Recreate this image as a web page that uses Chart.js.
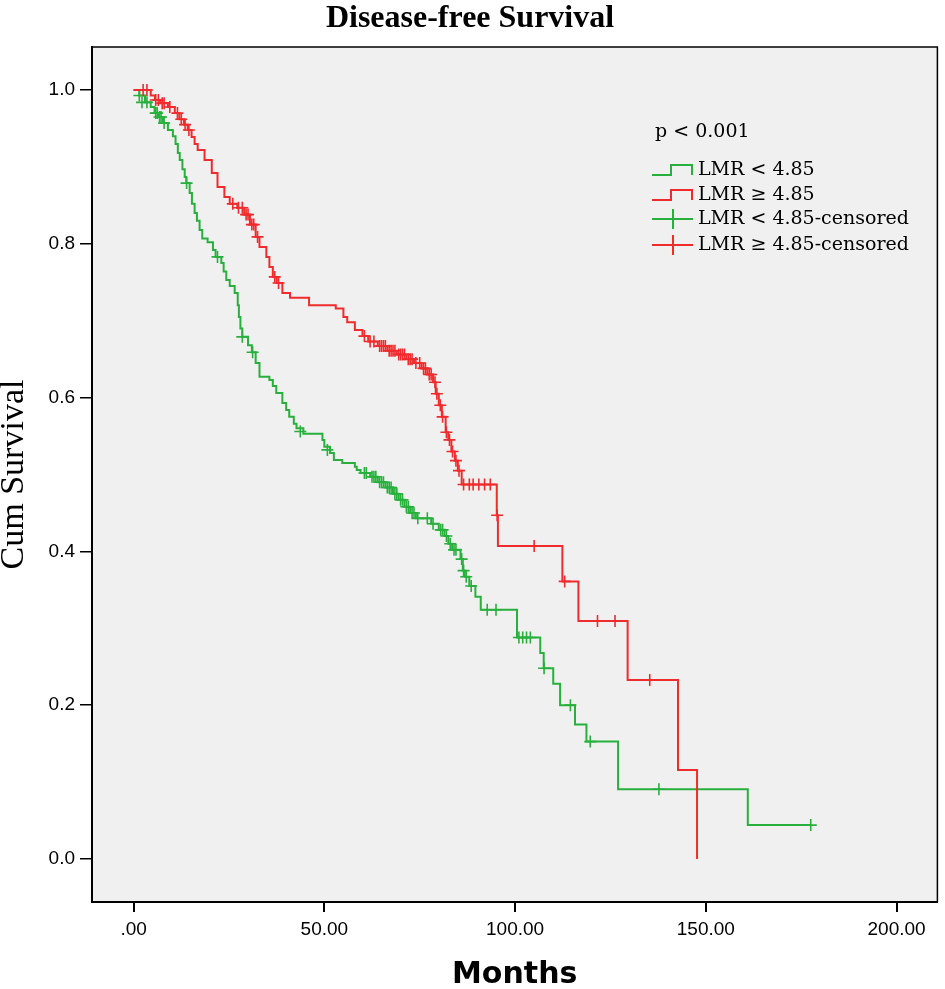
<!DOCTYPE html>
<html>
<head>
<meta charset="utf-8">
<script src="https://cdn.jsdelivr.net/npm/chart.js@4.4.1/dist/chart.umd.min.js"></script>
<style>
html,body{margin:0;padding:0;background:#ffffff;}
#wrap{width:945px;height:989px;position:relative;}
</style>
</head>
<body>
<div id="wrap"><canvas id="c"></canvas></div>
<script>
// ---- Data ----
const titleText = 'Disease-free Survival';
const xTicks = [0, 50, 100, 150, 200];
const yTicks = [0, 0.2, 0.4, 0.6, 0.8, 1.0];
const seriesNames = ['LMR < 4.85', 'LMR \u2265 4.85', 'LMR < 4.85-censored', 'LMR \u2265 4.85-censored'];
const pValueText = 'p < 0.001';

// LMR >= 4.85 : event times (months) and survival after the step
const redTimes = [0,4.5,5.6,7,9,10.8,12,13.2,14.2,15.2,16,16.8,18.6,20.5,22,23.8,25.2,27.2,29,30.5,32,33,34.8,35.6,36.5,37.5,39,41,46,53,55,56,58,60,61.5,64,66.5,69,71.5,73.5,75.5,77,78.5,79.2,80,80.8,81.8,82.5,83.3,84.2,85,86,95.2,95.5,112.4,116.6,129.5,142.7,147.7];
const redSurv  = [1.0,0.993,0.987,0.983,0.978,0.97,0.962,0.955,0.948,0.939,0.93,0.922,0.909,0.892,0.874,0.861,0.852,0.847,0.838,0.825,0.809,0.796,0.783,0.77,0.757,0.749,0.736,0.73,0.72,0.716,0.705,0.698,0.688,0.68,0.673,0.667,0.661,0.656,0.65,0.645,0.638,0.63,0.62,0.605,0.59,0.575,0.555,0.545,0.53,0.518,0.505,0.487,0.447,0.407,0.361,0.3095,0.2328,0.1157,0.0];
// LMR >= 4.85 censored
const redCensT = [2.5,3.5,5.8,6.5,7.5,8,9.5,11.5,12.5,13.5,14.5,26,27.5,28.5,29.5,30,31,31.5,32.5,37,38,60.5,62,63,64.5,65,65.5,66,67,67.5,68,68.5,69.5,70,70.5,71,72,72.5,73,74,75,76,76.5,77.5,78,79,79.5,80.4,81,82,82.8,83.6,84.5,85.3,86.5,88,89,90.5,92,93.5,95.3,105,113,121.6,126.2,135.3];
const redCensS = [1.0,1.0,0.987,0.987,0.983,0.983,0.978,0.97,0.962,0.955,0.948,0.852,0.847,0.847,0.838,0.838,0.825,0.825,0.809,0.757,0.749,0.68,0.673,0.673,0.667,0.667,0.667,0.667,0.661,0.661,0.661,0.661,0.656,0.656,0.656,0.656,0.65,0.65,0.65,0.645,0.645,0.638,0.638,0.63,0.63,0.62,0.605,0.59,0.575,0.555,0.545,0.53,0.518,0.505,0.487,0.487,0.487,0.487,0.487,0.487,0.447,0.407,0.361,0.3095,0.3095,0.2328];

// LMR < 4.85 : event times and survival after the step
const greenTimes = [0,1.5,3,4.5,5.5,6.4,7.7,9,10.3,11,11.6,12.1,12.8,13.4,13.8,14.7,15.3,16,16.6,17.3,18,19.4,20.8,21.5,23,23.6,24.3,25.2,26.5,27.3,27.6,28,28.5,30,31,32,33,35.6,36.5,37.4,39,40,40.8,42,42.7,44.5,49.5,50,51.5,52.5,54.7,58,58.5,59.5,62,64,66,68,69.5,71,72.5,74,78,80,81.5,82.5,83.5,85.7,86.3,86.8,88,89.6,91,100.5,106.6,107.5,110,111.8,115.7,118.7,127,161,177.5];
const greenSurv  = [1.0,0.993,0.984,0.978,0.97,0.965,0.957,0.948,0.94,0.93,0.918,0.909,0.897,0.887,0.879,0.866,0.852,0.84,0.83,0.818,0.807,0.802,0.792,0.783,0.775,0.764,0.753,0.745,0.736,0.72,0.705,0.69,0.679,0.668,0.659,0.645,0.627,0.623,0.615,0.606,0.593,0.584,0.575,0.566,0.56,0.553,0.545,0.536,0.528,0.519,0.515,0.51,0.506,0.502,0.497,0.49,0.483,0.475,0.467,0.458,0.45,0.443,0.436,0.428,0.42,0.41,0.402,0.39,0.375,0.367,0.355,0.341,0.324,0.288,0.268,0.248,0.228,0.2,0.175,0.1526,0.0906,0.044,0.044];
// LMR < 4.85 censored
const greenCensT = [1.5,2.2,3.5,5.8,6.2,6.8,7.2,8,13.9,22,28.5,31.2,43.7,50.8,60.5,61,62.5,63,63.5,64.5,65,65.5,66.5,67,67.5,68.5,69,70,70.5,71.5,72,73,73.5,74.5,77,78.5,80.5,81,82,83,84,84.5,86,86.5,87.2,88.5,92.7,95,101,102,103,104,107.6,114.5,119.7,137.7,177.5];
const greenCensS = [0.993,0.984,0.984,0.97,0.97,0.965,0.965,0.957,0.879,0.783,0.679,0.659,0.556,0.532,0.502,0.502,0.497,0.497,0.497,0.49,0.49,0.49,0.483,0.483,0.483,0.475,0.475,0.467,0.467,0.458,0.458,0.45,0.45,0.443,0.443,0.436,0.428,0.428,0.42,0.41,0.402,0.402,0.39,0.375,0.367,0.355,0.324,0.324,0.288,0.288,0.288,0.288,0.248,0.2,0.1526,0.0906,0.044];

// ---- styling ----
const RED = '#ef2b2b';
const GREEN = '#27b03c';
const toPts = (xs, ys) => xs.map((x, i) => ({x: x, y: ys[i]}));

const bgPlugin = {
  id: 'bgPlugin',
  beforeDraw(chart) {
    const {ctx, chartArea: a} = chart;
    ctx.save();
    ctx.fillStyle = '#ffffff';
    ctx.fillRect(0, 0, chart.width, chart.height);
    ctx.fillStyle = '#f0f0f0';
    ctx.fillRect(a.left, a.top, a.right - a.left, a.bottom - a.top);
    ctx.restore();
  },
  afterDraw(chart) {
    const {ctx, chartArea: a} = chart;
    ctx.save();
    ctx.strokeStyle = '#000';
    ctx.lineWidth = 1.5;
    ctx.beginPath();
    ctx.moveTo(a.left, a.top); ctx.lineTo(a.right, a.top); ctx.lineTo(a.right, a.bottom);
    ctx.stroke();
    // legend
    const lx = 652, tx = 698;
    ctx.fillStyle = '#000';
    ctx.textBaseline = 'middle';
    ctx.textAlign = 'left';
    ctx.font = '19px "DejaVu Serif", serif';
    ctx.fillText(pValueText, 655, 132);
    const rows = [170, 195, 219, 245];
    const cols = [GREEN, RED, GREEN, RED];
    rows.forEach((y, i) => {
      ctx.strokeStyle = cols[i];
      ctx.lineWidth = 2;
      ctx.beginPath();
      if (i < 2) {
        ctx.moveTo(lx, y + 5); ctx.lineTo(lx + 19, y + 5); ctx.lineTo(lx + 19, y - 5);
        ctx.lineTo(lx + 40, y - 5); ctx.lineTo(lx + 40, y + 5);
      } else {
        ctx.moveTo(lx, y); ctx.lineTo(lx + 41, y);
        ctx.moveTo(lx + 21, y - 10); ctx.lineTo(lx + 21, y + 10);
      }
      ctx.stroke();
      ctx.fillStyle = '#000';
      ctx.fillText(seriesNames[i], tx, y);
    });
    ctx.restore();
  }
};

new Chart(document.getElementById('c'), {
  type: 'scatter',
  data: {
    datasets: [
      {label: seriesNames[0], data: toPts(greenTimes, greenSurv), showLine: true, stepped: true,
       borderColor: GREEN, borderWidth: 2, pointRadius: 0, fill: false, order: 2},
      {label: seriesNames[1], data: toPts(redTimes, redSurv), showLine: true, stepped: true,
       borderColor: RED, borderWidth: 2, pointRadius: 0, fill: false, order: 1},
      {label: seriesNames[2], data: toPts(greenCensT, greenCensS), showLine: false,
       pointStyle: 'cross', pointRadius: 6, borderColor: GREEN, borderWidth: 1.6, order: 2},
      {label: seriesNames[3], data: toPts(redCensT, redCensS), showLine: false,
       pointStyle: 'cross', pointRadius: 6, borderColor: RED, borderWidth: 1.6, order: 1}
    ]
  },
  options: {
    responsive: true,
    maintainAspectRatio: false,
    animation: false,
    devicePixelRatio: 1,
    layout: {padding: {top: 0, right: 5, bottom: 0, left: 0}},
    plugins: {
      legend: {display: false},
      tooltip: {enabled: false},
      title: {
        display: true, text: titleText, color: '#000',
        font: {family: '"Liberation Serif", serif', size: 32, weight: 'bold', lineHeight: 1},
        padding: {top: 3, bottom: 12}
      }
    },
    scales: {
      x: {
        type: 'linear', min: -10.9, max: 210.7,
        afterBuildTicks: s => { s.ticks = xTicks.map(v => ({value: v})); },
        afterFit: s => { s.height = 87; },
        ticks: {
          color: '#000', padding: 6, maxRotation: 0, autoSkip: false,
          font: {family: '"Liberation Sans Narrow", "Liberation Sans", sans-serif', size: 19},
          callback: v => v === 0 ? '.00' : v.toFixed(2)
        },
        grid: {drawOnChartArea: false, drawTicks: true, tickLength: 10, color: '#000', lineWidth: 2},
        border: {display: true, color: '#000', width: 2},
        title: {display: true, text: 'Months', color: '#000',
          font: {family: '"DejaVu Sans", sans-serif', size: 30, weight: 'bold', lineHeight: 0.95},
          padding: {top: 0, bottom: 0}}
      },
      y: {
        type: 'linear', min: -0.056, max: 1.056,
        afterBuildTicks: s => { s.ticks = yTicks.map(v => ({value: v})); },
        afterFit: s => { s.width = 92; },
        ticks: {
          color: '#000', padding: 5, autoSkip: false,
          font: {family: '"Liberation Sans", sans-serif', size: 19},
          callback: v => v.toFixed(1)
        },
        grid: {drawOnChartArea: false, drawTicks: true, tickLength: 12, color: '#000', lineWidth: 1.5},
        border: {display: true, color: '#000', width: 2},
        title: {display: true, text: 'Cum Survival', color: '#000',
          font: {family: '"Liberation Serif", serif', size: 34, lineHeight: 0.85},
          padding: {top: 0, bottom: 0}}
      }
    }
  },
  plugins: [bgPlugin]
});
</script>
</body>
</html>
